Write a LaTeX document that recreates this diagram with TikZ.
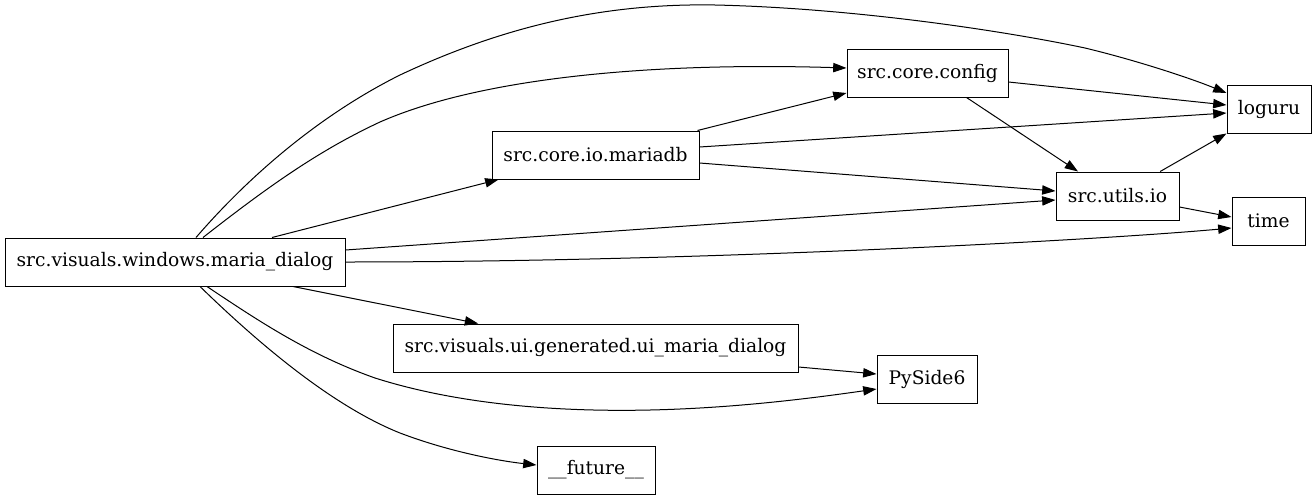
\documentclass[tikz,border=0pt]{standalone}
\usepackage{fontspec}
\setmainfont{DejaVu Serif}
\usepackage{tikz}
\usetikzlibrary{arrows.meta, positioning}

\begin{document}
\begin{tikzpicture}[
    x=0.75pt, y=-0.75pt,
    module/.style = {rectangle, draw, line width=0.75pt, minimum height=36pt, inner sep=0pt, text centered, font=\fontsize{14}{16}\selectfont},
    dep/.style = {line width=0.75pt, -{Triangle[length=10pt, width=7pt]}}
]
    \useasboundingbox (0,0) rectangle (1316,500);

    % Nodes
    \node (dialog) [module, minimum width=255pt] at (175,262) {src.visuals.windows.maria\_dialog};
    \node (mariadb) [module, minimum width=155.25pt] at (595.5,155) {src.core.io.mariadb};
    \node (config) [module, minimum width=120.75pt] at (927.5,73) {src.core.config};
    \node (loguru) [module, minimum width=63pt] at (1269,109) {loguru};
    \node (utilsio) [module, minimum width=92.25pt] at (1117.5,196) {src.utils.io};
    \node (time) [module, minimum width=54.75pt] at (1268.5,221) {time};
    \node (uidialog) [module, minimum width=303.75pt] at (595.5,348) {src.visuals.ui.generated.ui\_maria\_dialog};
    \node (pyside) [module, minimum width=75pt] at (927,379) {PySide6};
    \node (future) [module, minimum width=88.5pt] at (596,470) {\_\_future\_\_};

    % Arrows
    \draw [dep] ([xshift=15.75pt]dialog.north) .. controls (250,175) and (320,115) .. (400,75)
        .. controls (500,28) and (600,3) .. (715,5)
        .. controls (850,8) and (1000,30) .. (1085,48)
        .. controls (1135,60) and (1190,78) .. ([yshift=12pt]loguru.west);
    \draw [dep] ([xshift=21pt]dialog.north) .. controls (270,185) and (320,150) .. (380,122)
        .. controls (480,78) and (650,62) .. ([yshift=3.75pt]config.west);
    \draw [dep] ([xshift=72.75pt]dialog.north) -- ([xshift=5.25pt]mariadb.south west);
    \draw [dep] ([yshift=9pt]dialog.east) -- ([yshift=-3pt]utilsio.west);
    \draw [dep] (dialog.east) .. controls (700,262) and (1100,240) .. ([yshift=-5.25pt]time.west);
    \draw [dep] ([xshift=88.5pt]dialog.south) -- ([xshift=-88pt]uidialog.north);
    \draw [dep] ([xshift=24pt]dialog.south) .. controls (260,322) and (310,355) .. (375,378)
        .. controls (460,405) and (560,412) .. (650,410)
        .. controls (740,408) and (820,397) .. ([yshift=-7.5pt]pyside.west);
    \draw [dep] ([xshift=18.75pt]dialog.south) .. controls (255,340) and (330,405) .. (400,433)
        .. controls (450,452) and (500,461) .. ([yshift=3.75pt]future.west);

    \draw [dep] ([xshift=-1.5pt]mariadb.north east) -- ([yshift=-15pt]config.west);
    \draw [dep] ([yshift=6pt]mariadb.east) -- ([yshift=-3pt]loguru.west);
    \draw [dep] ([yshift=-6pt]mariadb.east) -- ([yshift=3.75pt]utilsio.west);

    \draw [dep] ([yshift=-6.75pt]config.east) -- ([yshift=3pt]loguru.west);
    \draw [dep] ([xshift=29.25pt]config.south) -- ([xshift=-29.6pt]utilsio.north);

    \draw [dep] ([xshift=32pt]utilsio.north) -- (loguru.south west);
    \draw [dep] ([yshift=-8.25pt]utilsio.east) -- ([yshift=3pt]time.west);

    \draw [dep] ([yshift=-14.25pt]uidialog.east) -- ([yshift=3.75pt]pyside.west);

\end{tikzpicture}
\end{document}
